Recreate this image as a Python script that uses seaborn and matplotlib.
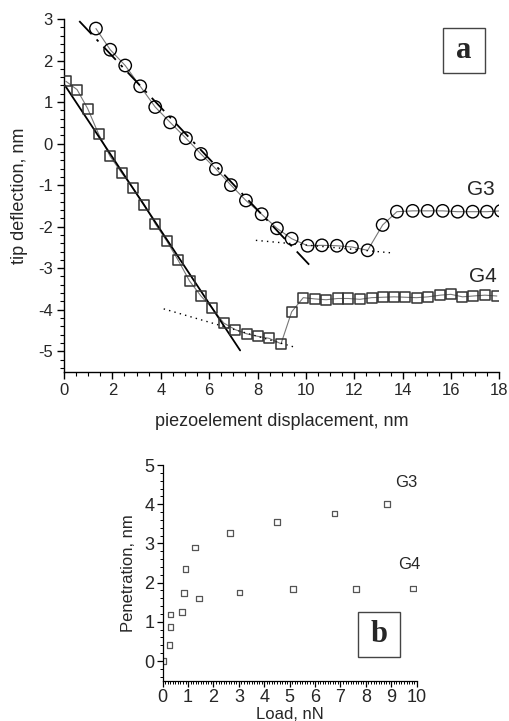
import numpy as np
import pandas as pd
import matplotlib
matplotlib.use("Agg")
import matplotlib.pyplot as plt
from matplotlib.ticker import MultipleLocator
from matplotlib.patches import Rectangle
import seaborn as sns

# ---------------- data: panel a ----------------
g4_x = [0.08, 0.54, 0.98, 1.43, 1.91, 2.40, 2.86, 3.32, 3.77, 4.24, 4.72, 5.19, 5.66,
        6.12, 6.60, 7.08, 7.55, 8.00, 8.48, 8.97, 9.41, 9.89, 10.37, 10.83, 11.31,
        11.75, 12.23, 12.71, 13.17, 13.65, 14.10, 14.57, 15.05, 15.55, 15.99, 16.47,
        16.91, 17.40, 17.89]
g4_y = [1.50, 1.30, 0.84, 0.23, -0.31, -0.72, -1.08, -1.47, -1.93, -2.34, -2.81, -3.31,
        -3.67, -3.96, -4.32, -4.48, -4.58, -4.64, -4.69, -4.82, -4.05, -3.71, -3.74,
        -3.76, -3.73, -3.73, -3.75, -3.71, -3.70, -3.69, -3.70, -3.71, -3.69, -3.65,
        -3.63, -3.69, -3.67, -3.65, -3.67]
g3_x = [1.32, 1.91, 2.53, 3.15, 3.77, 4.39, 5.04, 5.66, 6.28, 6.90, 7.52, 8.17, 8.80,
        9.41, 10.07, 10.66, 11.28, 11.90, 12.55, 13.17, 13.76, 14.41, 15.03, 15.65,
        16.27, 16.89, 17.48, 18.06]
g3_y = [2.77, 2.26, 1.88, 1.38, 0.88, 0.51, 0.13, -0.25, -0.61, -1.00, -1.37, -1.70,
        -2.04, -2.29, -2.46, -2.45, -2.46, -2.49, -2.57, -1.96, -1.64, -1.62, -1.62,
        -1.62, -1.64, -1.64, -1.64, -1.62]
# fitted / guide lines (end points)
g3_fit_x = [0.63, 10.27]
g3_fit_y = [2.95, -3.00]
g3_dot_x = [7.93, 13.51]
g3_dot_y = [-2.33, -2.63]
g4_fit_x = [0.04, 7.28]
g4_fit_y = [1.40, -4.98]
g4_dot_x = [4.12, 9.52]
g4_dot_y = [-3.98, -4.90]

# ---------------- data: panel b ----------------
b_g3_load = [0.03, 0.31, 0.89, 1.28, 2.64, 4.51, 6.77, 8.84]
b_g3_pen = [0.00, 1.19, 2.34, 2.89, 3.27, 3.55, 3.76, 4.00]
b_g4_load = [0.26, 0.31, 0.77, 0.84, 1.44, 3.02, 5.14, 7.60, 9.85]
b_g4_pen = [0.41, 0.87, 1.25, 1.73, 1.60, 1.75, 1.84, 1.83, 1.85]

sns.set_style("ticks")
plt.rcParams["font.family"] = ["Liberation Sans", "DejaVu Sans"]
plt.rcParams["axes.unicode_minus"] = False

W, H = 510, 721
fig = plt.figure(figsize=(W / 100, H / 100), dpi=100)

def frac(x0, y0, x1, y1):
    return [x0 / W, 1 - y1 / H, (x1 - x0) / W, (y1 - y0) / H]

def label_box(axis, x0, y0, x1, y1, letter):
    axis.add_patch(Rectangle((x0, y0), x1 - x0, y1 - y0, transform=axis.transAxes,
                             fc="white", ec="#444444", lw=1.0, zorder=6, clip_on=False))
    axis.text((x0 + x1) / 2, (y0 + y1) / 2, letter, transform=axis.transAxes,
              fontsize=22, fontweight="bold", family="Liberation Serif",
              ha="center", va="center", zorder=7)

# ================= panel a =================
ax = fig.add_axes(frac(64, 19, 499.5, 372))
dfa4 = pd.DataFrame({"x": g4_x, "y": g4_y})
dfa3 = pd.DataFrame({"x": g3_x, "y": g3_y})

sns.lineplot(data=dfa4, x="x", y="y", sort=False, ax=ax, color="#777777", lw=0.8,
             estimator=None)
sns.lineplot(data=dfa3, x="x", y="y", sort=False, ax=ax, color="#777777", lw=0.8,
             estimator=None)
sns.lineplot(x=g4_fit_x, y=g4_fit_y, ax=ax, color="black", lw=1.3, estimator=None)
sns.lineplot(x=g3_fit_x, y=g3_fit_y, ax=ax, color="black", lw=1.3, estimator=None,
             dashes=False, linestyle=(0, (10, 4, 1.5, 4)))
sns.lineplot(x=g3_dot_x, y=g3_dot_y, ax=ax, color="black", lw=1.0, estimator=None,
             linestyle=(0, (1, 3)))
sns.lineplot(x=g4_dot_x, y=g4_dot_y, ax=ax, color="black", lw=1.0, estimator=None,
             linestyle=(0, (1, 3)))
sns.scatterplot(data=dfa4, x="x", y="y", ax=ax, marker="s", s=52, facecolor="none",
                edgecolor="#333333", linewidth=1.1, zorder=5)
sns.scatterplot(data=dfa3, x="x", y="y", ax=ax, marker="o", s=80, facecolor="none",
                edgecolor="black", linewidth=1.0, zorder=5, clip_on=True)

ax.set_xlim(0, 18)
ax.set_ylim(-5.5, 3)
ax.xaxis.set_major_locator(MultipleLocator(2))
ax.xaxis.set_minor_locator(MultipleLocator(0.5))
ax.yaxis.set_major_locator(MultipleLocator(1))
ax.yaxis.set_minor_locator(MultipleLocator(0.2))
ax.set_yticks([-5, -4, -3, -2, -1, 0, 1, 2, 3])
ax.tick_params(which="major", direction="out", length=5, width=1.0, labelsize=12,
               color="black", pad=3)
ax.tick_params(which="minor", direction="out", length=3, width=0.8, color="black")
for s in ("top", "right"):
    ax.spines[s].set_visible(False)
for s in ("left", "bottom"):
    ax.spines[s].set_color("black")
    ax.spines[s].set_linewidth(1.0)
ax.set_xlabel("piezoelement displacement, nm", fontsize=13, labelpad=11)
ax.set_ylabel("tip deflection, nm", fontsize=13, labelpad=7)
ax.text(17.25, -1.1, "G3", fontsize=15, ha="center", va="center")
ax.text(17.3, -3.2, "G4", fontsize=15, ha="center", va="center")
label_box(ax, 0.870, 0.847, 0.967, 0.9745, "a")

# ================= panel b =================
bx = fig.add_axes(frac(162.7, 465, 416.7, 680.6))
sns.scatterplot(x=b_g3_load, y=b_g3_pen, ax=bx, marker="s", s=16, facecolor="none",
                edgecolor="#555555", linewidth=0.9)
sns.scatterplot(x=b_g4_load, y=b_g4_pen, ax=bx, marker="s", s=16, facecolor="none",
                edgecolor="#555555", linewidth=0.9)
bx.set_xlim(0, 10)
bx.set_ylim(-0.5, 5)
bx.xaxis.set_major_locator(MultipleLocator(1))
bx.xaxis.set_minor_locator(MultipleLocator(0.1))
bx.yaxis.set_major_locator(MultipleLocator(1))
bx.yaxis.set_minor_locator(MultipleLocator(0.2))
bx.set_yticks([0, 1, 2, 3, 4, 5])
bx.tick_params(which="major", direction="out", length=4, width=0.9, labelsize=13,
               color="black", pad=2)
bx.tick_params(which="minor", direction="out", length=2, width=0.7, color="black")
for s in ("top", "right"):
    bx.spines[s].set_visible(False)
for s in ("left", "bottom"):
    bx.spines[s].set_color("black")
    bx.spines[s].set_linewidth(0.9)
bx.set_xlabel("Load, nN", fontsize=12, labelpad=1)
bx.set_ylabel("Penetration, nm", fontsize=12, labelpad=6)
bx.text(9.6, 4.55, "G3", fontsize=12, ha="center", va="center")
bx.text(9.7, 2.45, "G4", fontsize=12, ha="center", va="center")
label_box(bx, 0.768, 0.111, 0.934, 0.3196, "b")

fig.savefig("out.png", dpi=100)
